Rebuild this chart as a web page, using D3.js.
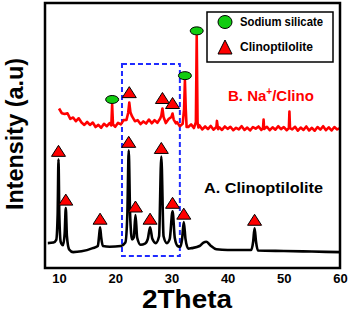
<!DOCTYPE html>
<html>
<head>
<meta charset="utf-8">
<script src="https://cdn.jsdelivr.net/npm/d3@7/dist/d3.min.js"></script>
<style>
  body { margin: 0; background: #fff; }
  text { font-family: "Liberation Sans", Arial, sans-serif; font-weight: bold; }
</style>
</head>
<body>
<script>
// 2Theta tick labels
const xTicks = [10, 20, 30, 40, 50, 60];

// A. Clinoptilolite pattern [2theta, intensity a.u.]
const patternA = [
  [8.0, 9.4], [9.0, 9.6], [9.5, 10.6], [9.75, 20], [9.9, 41.0], [10.05, 20], [10.3, 9.8],
  [10.7, 8.6], [11.0, 13], [11.2, 22.6], [11.4, 12], [11.8, 7.0], [12.5, 6.0], [14, 6.3],
  [16, 7.5], [16.9, 8.3], [17.1, 11.5], [17.3, 15.4], [17.5, 11.5], [17.8, 8.3], [19, 8.0],
  [21, 8.3], [21.8, 9.6], [22.15, 20], [22.4, 44.4], [22.65, 20], [23.0, 10.8], [23.3, 11.5],
  [23.6, 20], [23.9, 11.5], [24.5, 8.8], [25.3, 9.2], [25.8, 11], [26.2, 15.4], [26.6, 11],
  [27.2, 9.4], [27.8, 12], [28.2, 42.1], [28.6, 12], [29.2, 9.4], [29.7, 11], [30.2, 21.4],
  [30.6, 11.3], [31.1, 8.3], [31.6, 8.0], [31.9, 11], [32.2, 17.3], [32.5, 11], [33.0, 7.3],
  [33.6, 7.5], [35.0, 8.3], [35.7, 9.6], [36.2, 9.9], [36.9, 8.6], [38, 7.1], [40, 6.8],
  [44.2, 6.8], [44.55, 10], [44.8, 15.0], [45.05, 10], [45.4, 6.6], [50, 6.4], [55, 6.2], [60, 6.0]
];

// B. Na+/Clino pattern [2theta, intensity a.u.]
const patternB = [
  [10.0, 60.2], [10.5, 58.4], [11.0, 58.1], [11.5, 58.4], [12.0, 56.3], [12.5, 56.8], [13.0, 55.4],
  [13.5, 56.5], [14.0, 54.9], [14.5, 54.0], [15.0, 55.1], [15.5, 54.0], [16.0, 54.9], [16.5, 53.2],
  [17.0, 54.0], [17.5, 52.9], [18.0, 54.4], [18.5, 53.5], [19.0, 54.7], [19.3, 53.8], [19.45, 61.7],
  [19.6, 54.2], [20.0, 53.3], [20.5, 54.8], [21.0, 54.2], [21.5, 55.8], [22.0, 55.9], [22.3, 58.5],
  [22.5, 62.4], [22.7, 58.8], [23.0, 57.2], [23.5, 55.4], [24.0, 55.8], [24.5, 54.3], [25.0, 55.3],
  [25.5, 54.5], [26.0, 56.0], [26.5, 54.6], [27.0, 55.8], [27.5, 54.8], [28.0, 56.4], [28.2, 57.5],
  [28.4, 60.2], [28.6, 57.0], [29.0, 54.7], [29.5, 56.2], [30.0, 57.0], [30.2, 58.3], [30.4, 56.0],
  [30.8, 54.6], [31.0, 55.0], [31.5, 53.5], [32.0, 54.4], [32.25, 60.0], [32.4, 70.7], [32.55, 60.0],
  [32.7, 53.2], [33.0, 53.2], [33.5, 54.2], [34.0, 52.8], [34.35, 55.0], [34.5, 87.6], [34.65, 55.0],
  [34.8, 53.0], [35.0, 53.8], [35.5, 52.3], [36.0, 53.4], [36.5, 52.4], [37.0, 53.6], [37.5, 52.2],
  [38.0, 53.2], [38.1, 55.5], [38.3, 52.4], [38.5, 53.1], [39.0, 52.1], [39.5, 53.4], [40.0, 52.5],
  [40.5, 53.3], [41.0, 52.0], [41.5, 52.9], [42.0, 52.3], [42.5, 53.5], [43.0, 52.1], [43.5, 53.0],
  [44.0, 51.9], [44.5, 53.2], [45.0, 52.6], [45.5, 53.4], [46.0, 52.1], [46.3, 52.8], [46.4, 56.0],
  [46.5, 52.5], [47.0, 53.3], [47.5, 52.0], [48.0, 53.1], [48.5, 52.2], [49.0, 53.5], [49.5, 52.4],
  [50.0, 53.2], [50.5, 52.0], [50.9, 52.8], [51.0, 59.0], [51.1, 52.8], [51.5, 52.3], [52.0, 53.3],
  [52.5, 51.8], [53.0, 53.0], [53.5, 52.1], [54.0, 53.4], [54.5, 51.9], [55.0, 52.9], [55.5, 51.8],
  [56.0, 53.2], [56.5, 52.2], [57.0, 53.5], [57.5, 52.0], [58.0, 53.1], [58.5, 51.9], [59.0, 53.2],
  [59.5, 52.3], [60.0, 52.8]
];

// indexed reflections [2theta, peak intensity]
const clinoPeaksA = [[9.9, 41.0], [11.2, 22.6], [17.3, 15.4], [22.4, 44.4], [23.6, 20], [26.2, 15.4],
                     [28.2, 42.1], [30.2, 21.4], [32.2, 17.3], [44.8, 15.0]];
const clinoPeaksB = [[22.5, 62.4], [28.4, 60.2], [30.2, 58.3]];
const silicatePeaksB = [[19.45, 61.7], [32.4, 70.7], [34.5, 87.6]];

// highlighted 2theta window and its intensity span
const boxTheta = [21.2, 31.5];
const boxIntensity = [4.5, 77];

const width = 350, height = 314;
const margin = { top: 3, right: 10, bottom: 46, left: 45 };

const svg = d3.select('body').append('svg')
  .attr('width', width)
  .attr('height', height);

const x = d3.scaleLinear().domain([7.5, 60]).range([margin.left, width - margin.right]);
const y = d3.scaleLinear().domain([0, 100]).range([height - margin.bottom, margin.top]);

const triangle = (cx, by, w, h) => `M${cx - w / 2},${by}L${cx + w / 2},${by}L${cx},${by - h}Z`;

// blue dashed window
svg.append('rect')
  .attr('x', x(boxTheta[0]))
  .attr('y', y(boxIntensity[1]))
  .attr('width', x(boxTheta[1]) - x(boxTheta[0]))
  .attr('height', y(boxIntensity[0]) - y(boxIntensity[1]))
  .attr('fill', 'none')
  .attr('stroke', '#1f2bff')
  .attr('stroke-width', 2)
  .attr('stroke-dasharray', '5,3');

const line = d3.line().x(d => x(d[0])).y(d => y(d[1]));

svg.append('path')
  .datum(patternB)
  .attr('d', line.curve(d3.curveLinear))
  .attr('fill', 'none')
  .attr('stroke', '#ff0000')
  .attr('stroke-width', 2.6)
  .attr('stroke-linejoin', 'round');

svg.append('path')
  .datum(patternA)
  .attr('d', line.curve(d3.curveMonotoneX))
  .attr('fill', 'none')
  .attr('stroke', '#000')
  .attr('stroke-width', 2.6)
  .attr('stroke-linejoin', 'round');

// markers
svg.selectAll('.triA').data(clinoPeaksA).enter().append('path')
  .attr('d', d => triangle(x(d[0]), y(d[1]) - 3, 14, 11))
  .attr('fill', '#ff0000').attr('stroke', '#000').attr('stroke-width', 1);

svg.selectAll('.triB').data(clinoPeaksB).enter().append('path')
  .attr('d', d => triangle(x(d[0]), y(d[1]) - 5, 14, 11))
  .attr('fill', '#ff0000').attr('stroke', '#000').attr('stroke-width', 1);

svg.selectAll('.silB').data(silicatePeaksB).enter().append('ellipse')
  .attr('cx', d => x(d[0]))
  .attr('cy', d => y(d[1]) - 5)
  .attr('rx', 6.5).attr('ry', 4)
  .attr('fill', '#11cc11').attr('stroke', '#000').attr('stroke-width', 1);

// frame
svg.append('rect')
  .attr('x', margin.left)
  .attr('y', margin.top)
  .attr('width', width - margin.left - margin.right)
  .attr('height', height - margin.top - margin.bottom)
  .attr('fill', 'none')
  .attr('stroke', '#000')
  .attr('stroke-width', 2.5);

// x axis
const xAxis = svg.append('g')
  .attr('transform', `translate(0,${height - margin.bottom})`)
  .call(d3.axisBottom(x).tickValues(xTicks).tickSize(0).tickPadding(6));
xAxis.select('.domain').remove();
xAxis.selectAll('text')
  .attr('fill', '#000')
  .style('font-size', '13px')
  .style('font-weight', 'bold')
  .style('font-family', '"Liberation Sans", Arial, sans-serif');

svg.append('text')
  .attr('x', 187).attr('y', 308)
  .attr('text-anchor', 'middle')
  .attr('font-size', 25)
  .attr('textLength', 90).attr('lengthAdjust', 'spacingAndGlyphs')
  .text('2Theta');

svg.append('text')
  .attr('transform', 'translate(23,134) rotate(-90)')
  .attr('text-anchor', 'middle')
  .attr('font-size', 24)
  .attr('textLength', 152).attr('lengthAdjust', 'spacingAndGlyphs')
  .text('Intensity (a.u)');

// legend
const legend = svg.append('g');
legend.append('rect')
  .attr('x', 207).attr('y', 12).attr('width', 126).attr('height', 50)
  .attr('fill', '#fff').attr('stroke', '#000').attr('stroke-width', 1.5);
legend.append('ellipse')
  .attr('cx', 225).attr('cy', 22).attr('rx', 7).attr('ry', 6.5)
  .attr('fill', '#11cc11').attr('stroke', '#000').attr('stroke-width', 1);
legend.append('path')
  .attr('d', triangle(225, 54, 14, 14))
  .attr('fill', '#ff0000').attr('stroke', '#000').attr('stroke-width', 1);
legend.append('text')
  .attr('x', 240).attr('y', 26).attr('font-size', 13)
  .attr('textLength', 83).attr('lengthAdjust', 'spacingAndGlyphs')
  .text('Sodium silicate');
legend.append('text')
  .attr('x', 240).attr('y', 51).attr('font-size', 13)
  .attr('textLength', 73).attr('lengthAdjust', 'spacingAndGlyphs')
  .text('Clinoptilolite');

// series labels
const labB = svg.append('text')
  .attr('x', 228).attr('y', 101).attr('font-size', 15).attr('fill', '#ff0000');
labB.append('tspan').text('B. Na');
labB.append('tspan').attr('font-size', 10).attr('dy', -6).text('+');
labB.append('tspan').attr('dy', 6).text('/Clino');

svg.append('text')
  .attr('x', 204).attr('y', 193).attr('font-size', 14)
  .attr('textLength', 119).attr('lengthAdjust', 'spacingAndGlyphs')
  .text('A. Clinoptilolite');
</script>
</body>
</html>
